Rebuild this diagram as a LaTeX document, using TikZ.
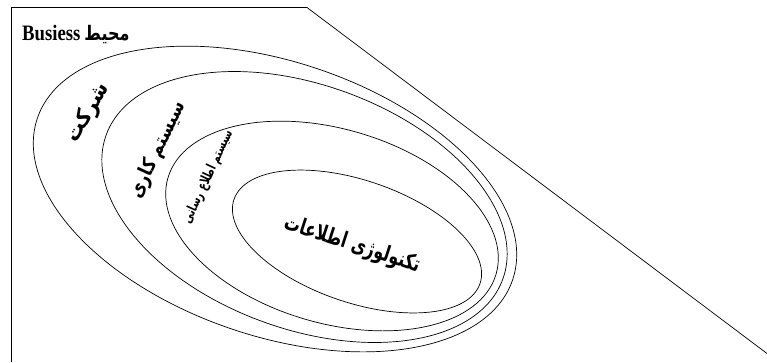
\documentclass[tikz,border=0pt]{standalone}
\usepackage{fontspec}
\usepackage{graphicx}
\TeXXeTstate=1
\newfontfamily\arabicfont[Script=Arabic]{DejaVu Sans}
\newfontfamily\latinfont{Liberation Serif}
\tikzset{
  ring/.style={draw=black, line width=0.7pt},
  frame/.style={draw=black, line width=0.7pt},
  lbl/.style={inner sep=0pt, font=\arabicfont\bfseries}
}
\begin{document}
\begin{tikzpicture}[x=1pt, y=-1pt]
\useasboundingbox (0,0) rectangle (767,362);
% frame
\draw[frame] (11.5,362) -- (11.5,7.5) -- (307,7.5) -- (767,353.5);
% ellipses
\draw[ring, rotate around={-18.8:(275,199)}] (275,199) ellipse [x radius=251, y radius=137];
\draw[ring, rotate around={-20:(304.5,207)}] (304.5,207) ellipse [x radius=211, y radius=122];
\draw[ring, rotate around={-16.4:(332,226)}] (332,226) ellipse [x radius=171, y radius=97];
\draw[ring, rotate around={-18.9:(357,241.5)}] (357,241.5) ellipse [x radius=130, y radius=61];
% labels
\node[lbl, anchor=west] (env) at (22,35) {\fontsize{22}{24}\selectfont{\latinfont\bfseries\scalebox{0.85}[1]{Busiess}}\hspace{4pt}\scalebox{0.8}[1]{\fontsize{20}{22}\selectfont\beginR محیط\endR}};
\node[lbl, rotate=60] (co) at (88,113) {\fontsize{22}{24}\selectfont\scalebox{0.9}[1]{\beginR شرکت\endR}};
\node[lbl, rotate=65] (ws) at (158,150) {\fontsize{20}{22}\selectfont\scalebox{0.82}[1]{\beginR سیستم کاری\endR}};
\node[lbl, rotate=65] (is) at (208,177) {\fontsize{14}{16}\selectfont\scalebox{0.7}[1]{\beginR سیستم اطلاع رسانی\endR}};
\node[lbl, rotate=-18] (it) at (352,245) {\fontsize{22}{24}\selectfont\scalebox{0.72}[1]{\beginR تکنولوژی اطلاعات\endR}};
\end{tikzpicture}
\end{document}
